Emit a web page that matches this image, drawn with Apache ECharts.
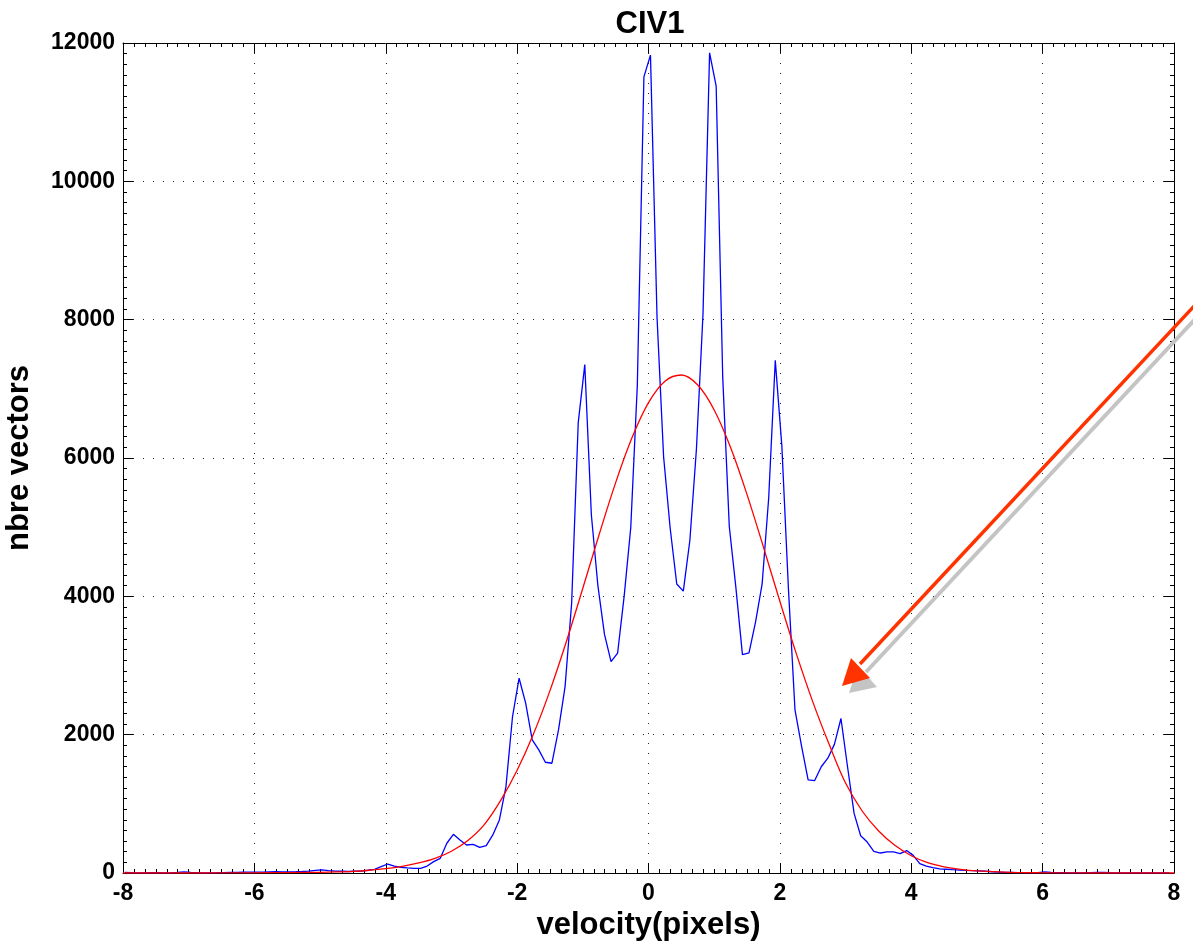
<!DOCTYPE html>
<html>
<head>
<meta charset="utf-8">
<script src="https://cdn.jsdelivr.net/npm/echarts@6/dist/echarts.min.js"></script>
<style>
  html, body { margin: 0; padding: 0; background: #fff; }
  #chart { width: 1193px; height: 945px; }
</style>
</head>
<body>
<div id="chart"></div>
<script>
// ---- data ----
const titleText = 'CIV1';
const xAxisName = 'velocity(pixels)';
const yAxisName = 'nbre vectors';
const xTicks = [-8, -6, -4, -2, 0, 2, 4, 6, 8];
const yTicks = [0, 2000, 4000, 6000, 8000, 10000, 12000];

// histogram bin centres: first centre and bin width
const binStart = -7.97;
const binWidth = 0.1;
// blue: number of vectors per bin (160 bins, -7.97 ... 7.93)
const blueCounts = [
  8, 5, 3, 3, 5, 4, 3, 3, 8, 15,
  8, 4, 3, 3, 4, 6, 8, 10, 12, 14,
  14, 12, 15, 18, 16, 15, 18, 22, 28, 38,
  45, 35, 28, 25, 22, 25, 28, 40, 53, 91,
  130, 101, 82, 74, 67, 67, 101, 164, 212, 430,
  560, 477, 405, 415, 371, 395, 550, 767, 1249, 2262,
  2816, 2455, 1924, 1780, 1601, 1587, 2069, 2695, 3900, 6507,
  7350, 5180, 4150, 3450, 3057, 3180, 4006, 4995, 7054, 11510,
  11825, 8032, 6019, 4984, 4179, 4075, 4811, 6134, 8089, 11857,
  11378, 7169, 5010, 4130, 3157, 3182, 3631, 4179, 5426, 7412,
  6175, 4115, 2359, 1835, 1346, 1336, 1536, 1660, 1860, 2234,
  1536, 862, 538, 448, 314, 289, 304, 304, 279, 324,
  255, 135, 98, 78, 60, 54, 48, 43, 38, 35,
  30, 25, 18, 14, 10, 8, 6, 5, 5, 6,
  15, 8, 5, 4, 3, 3, 4, 6, 10, 8,
  5, 3, 3, 3, 3, 3, 2, 2, 2, 2
];

// red: fitted curve
const redX = [-8, -7.5, -7, -6.5, -6, -5.5, -5, -4.75, -4.5, -4.25, -4, -3.75, -3.5, -3.25, -3, -2.75, -2.5, -2.25, -2, -1.75, -1.5, -1.25, -1, -0.75, -0.5, -0.25, 0, 0.25, 0.5, 0.75, 1, 1.25, 1.5, 1.75, 2, 2.25, 2.5, 2.75, 3, 3.25, 3.5, 3.75, 4, 4.25, 4.5, 4.75, 5, 5.5, 6, 6.5, 7, 7.5, 8];
const redY = [0, 0, 0, 1, 3, 6, 10, 15, 24, 40, 62, 96, 145, 212, 315, 470, 700, 1050, 1485, 2012, 2637, 3348, 4116, 4898, 5644, 6296, 6800, 7110, 7200, 7055, 6695, 6151, 5471, 4712, 3928, 3171, 2478, 1860, 1300, 900, 610, 400, 250, 150, 90, 52, 30, 10, 3, 1, 0, 0, 0];

// ---- build ----
const blueData = blueCounts.map((v, i) => [Number((binStart + i * binWidth).toFixed(2)), v]);
const redData = redX.map((x, i) => [x, redY[i]]);

const FONT = '"Liberation Sans", Arial, sans-serif';
const chart = echarts.init(document.getElementById('chart'), null, { renderer: 'canvas' });

const xMin = xTicks[0], xMax = xTicks[xTicks.length - 1], xInt = xTicks[1] - xTicks[0];
const yMin = yTicks[0], yMax = yTicks[yTicks.length - 1], yInt = yTicks[1] - yTicks[0];

const dotted = { show: true, lineStyle: { color: '#222', width: 1, type: [1, 9] } };
const frameLine = { show: true, onZero: false, lineStyle: { color: '#000', width: 1 } };

chart.setOption({
  animation: false,
  backgroundColor: '#fff',
  title: {
    text: titleText,
    left: 645, top: 4, textAlign: 'center',
    textStyle: { fontFamily: FONT, fontSize: 31, fontWeight: 'bold', color: '#000' }
  },
  grid: { left: 123, right: 19, top: 43, bottom: 72, containLabel: false, outerBoundsMode: 'none' },
  xAxis: [
    {
      type: 'value', min: xMin, max: xMax, interval: xInt, position: 'bottom',
      name: xAxisName, nameLocation: 'middle', nameGap: 35,
      nameTextStyle: { fontFamily: FONT, fontSize: 31, fontWeight: 'bold', color: '#000' },
      axisLine: frameLine,
      axisTick: { show: true, inside: true, length: 10, lineStyle: { color: '#000' } },
      minorTick: { show: true, splitNumber: 12, length: 4, lineStyle: { color: '#000' } },
      axisLabel: { fontFamily: FONT, fontSize: 23, fontWeight: 'bold', color: '#000', margin: 9,
                   formatter: v => String(v) },
      splitLine: dotted
    },
    {
      type: 'value', min: xMin, max: xMax, interval: xInt, position: 'top',
      axisLine: frameLine,
      axisTick: { show: true, inside: true, length: 10, lineStyle: { color: '#000' } },
      minorTick: { show: true, splitNumber: 12, length: 4, lineStyle: { color: '#000' } },
      axisLabel: { show: false }, splitLine: { show: false }
    }
  ],
  yAxis: [
    {
      type: 'value', min: yMin, max: yMax, interval: yInt, position: 'left',
      name: yAxisName, nameLocation: 'middle', nameGap: 88,
      nameTextStyle: { fontFamily: FONT, fontSize: 31, fontWeight: 'bold', color: '#000' },
      axisLine: frameLine,
      axisTick: { show: true, inside: true, length: 10, lineStyle: { color: '#000' } },
      minorTick: { show: true, splitNumber: 13, length: 4, lineStyle: { color: '#000' } },
      axisLabel: { fontFamily: FONT, fontSize: 23, fontWeight: 'bold', color: '#000', margin: 8,
                   formatter: v => String(v) },
      splitLine: dotted
    },
    {
      type: 'value', min: yMin, max: yMax, interval: yInt, position: 'right',
      axisLine: frameLine,
      axisTick: { show: true, inside: true, length: 10, lineStyle: { color: '#000' } },
      minorTick: { show: true, splitNumber: 13, length: 4, lineStyle: { color: '#000' } },
      axisLabel: { show: false }, splitLine: { show: false }
    }
  ],
  series: [
    {
      name: 'counts', type: 'line', data: blueData, showSymbol: false, smooth: false,
      lineStyle: { color: '#0000ff', width: 1.3 }, z: 3
    },
    {
      name: 'fit', type: 'line', data: redData, showSymbol: false, smooth: 0.35,
      lineStyle: { color: '#ff0000', width: 1.3 }, z: 4
    }
  ],
  graphic: [
    // gray shadow of the annotation arrow
    { type: 'line', z: 100, shape: { x1: 866, y1: 672, x2: 1199, y2: 315 },
      style: { stroke: '#c4c4c4', lineWidth: 4 } },
    { type: 'polygon', z: 100, shape: { points: [[849, 693], [858, 666], [877, 687]] },
      style: { fill: '#c4c4c4' } },
    // red annotation arrow
    { type: 'line', z: 101, shape: { x1: 860, y1: 664, x2: 1197, y2: 303 },
      style: { stroke: '#ff3300', lineWidth: 3.5 } },
    { type: 'polygon', z: 101, shape: { points: [[842, 686], [851, 658], [870, 678]] },
      style: { fill: '#ff3300' } }
  ]
});
</script>
</body>
</html>
